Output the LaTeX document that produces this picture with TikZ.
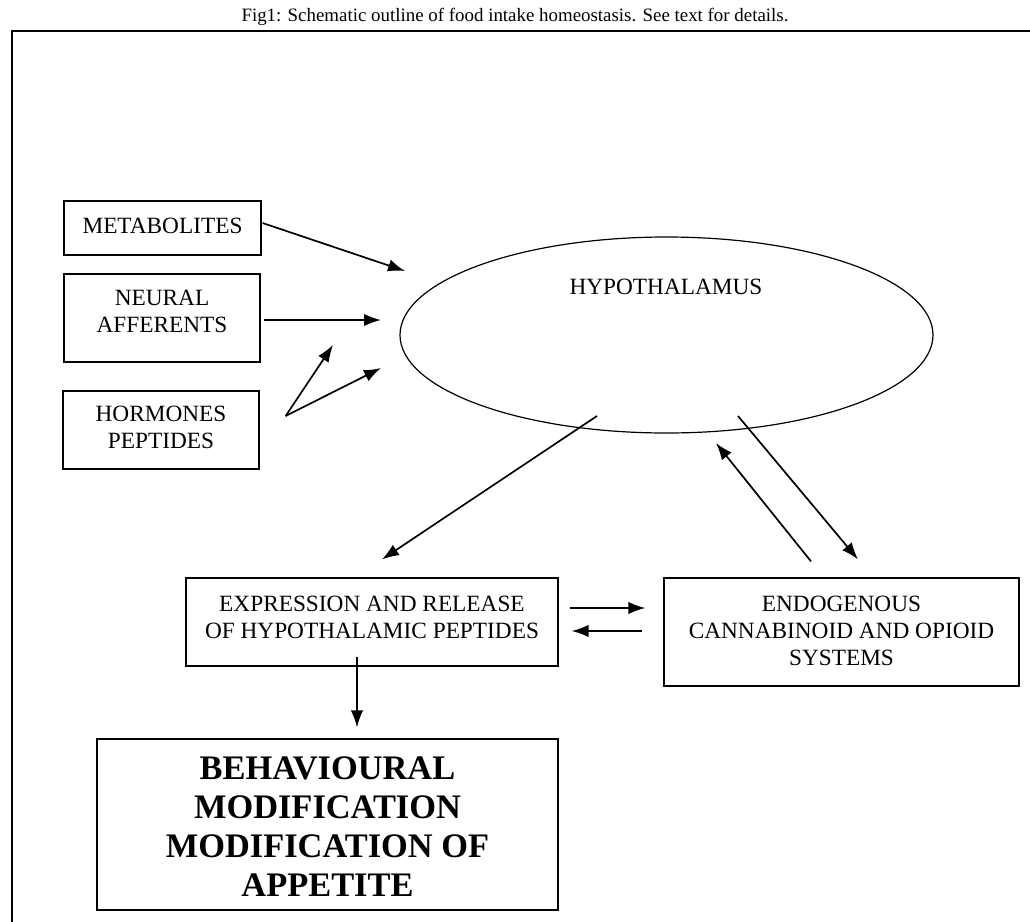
\documentclass[tikz,border=0pt]{standalone}
\usepackage{fontspec}
\setmainfont{Liberation Serif}
\usetikzlibrary{shapes.geometric,arrows.meta,calc}
\begin{document}
\begin{tikzpicture}[x=0.5pt,y=-0.5pt,
  box/.style={draw, line width=0.6pt, rectangle, inner sep=0pt},
  boxtext/.style={inner sep=0pt, align=center, font=\fontsize{11.65}{13.5}\selectfont},
  arr/.style={line width=0.85pt, -{Latex[length=8.5pt,width=6.2pt]}},
  frame/.style={line width=0.6pt},
]
\useasboundingbox (0,0) rectangle (1030,922);
\clip (0,0) rectangle (1030,922);
\node[font=\fontsize{9.45}{11}\selectfont, anchor=base, inner sep=0pt] (title) at (515,21) {Fig1: Schematic outline of food intake homeostasis. See text for details.};
\draw[frame] (1030,31) -- (12,31) -- (12,922);

\node[box, minimum width=98.5pt, minimum height=27pt] (met) at (162.5,228) {};
\node[boxtext] (met-t) at (162.5,226) {METABOLITES};
\node[box, minimum width=98pt, minimum height=44pt] (neu) at (162,318) {};
\node[boxtext] (neu-t) at (162,311) {NEURAL\\AFFERENTS};
\node[box, minimum width=98pt, minimum height=39pt] (hor) at (161,430) {};
\node[boxtext] (hor-t) at (161,427) {HORMONES\\PEPTIDES};
\node[draw, ellipse, line width=0.6pt, minimum width=266.5pt, minimum height=98pt, inner sep=0pt] (hyp) at (666.5,335) {};
\node[boxtext] (hyp-t) at (666,287) {HYPOTHALAMUS};
\node[box, minimum width=186pt, minimum height=44pt] (exp) at (372,622) {};
\node[boxtext] (exp-t) at (372,617) {EXPRESSION AND RELEASE\\OF HYPOTHALAMIC PEPTIDES};
\node[box, minimum width=177.5pt, minimum height=54pt] (endo) at (841.5,632) {};
\node[boxtext] (endo-t) at (841.5,631) {ENDOGENOUS\\CANNABINOID AND OPIOID\\SYSTEMS};
\node[box, minimum width=230.5pt, minimum height=85.5pt] (beh) at (327.5,824.5) {};
\node[boxtext, font=\bfseries\fontsize{17.2}{19.5}\selectfont] (beh-t) at (327.5,827) {BEHAVIOURAL\\MODIFICATION\\MODIFICATION OF\\APPETITE};

% connector end points
\coordinate (m1) at ($(met.east)+(1,-5)$);
\coordinate (m2) at (405,271);
\coordinate (n1) at ($(neu.east)+(3,2)$);
\coordinate (n2) at (381,320);
\coordinate (h0) at ($(hor.east)+(26,-14)$);
\coordinate (h1) at (333,345);
\coordinate (h2) at (381,368);
\coordinate (e1) at ($(hyp.center)+(-69.5,81)$);
\coordinate (e2) at ($(exp.north)+(10,-18)$);
\coordinate (d1) at ($(hyp.center)+(71.5,81)$);
\coordinate (d2) at ($(endo.north)+(16.5,-18)$);
\coordinate (u1) at ($(endo.north)+(-30.5,-16)$);
\coordinate (u2) at ($(hyp.center)+(49.5,108)$);
\coordinate (r1) at ($(exp.east)+(11,-14)$);
\coordinate (r2) at ($(endo.west)+(-18,-24)$);
\coordinate (l1) at ($(endo.west)+(-21,-1)$);
\coordinate (l2) at ($(exp.east)+(13,9)$);
\coordinate (b1) at ($(exp.south)+(-15,-10)$);
\coordinate (b2) at ($(beh.north)+(29.5,-11)$);

\draw[arr] (m1) -- (m2);
\draw[arr] (n1) -- (n2);
\draw[arr] (h0) -- (h1);
\draw[arr] (h0) -- (h2);
\draw[arr] (e1) -- (e2);
\draw[arr] (d1) -- (d2);
\draw[arr] (u1) -- (u2);
\draw[arr] (r1) -- (r2);
\draw[arr] (l1) -- (l2);
\draw[arr] (b1) -- (b2);
\end{tikzpicture}
\end{document}
